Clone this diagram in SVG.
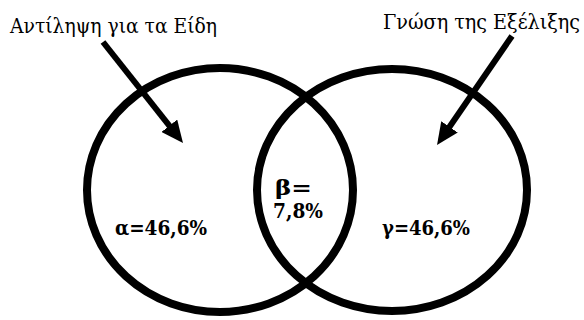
<svg xmlns="http://www.w3.org/2000/svg" width="584" height="320" viewBox="0 0 584 320">
<style>
.c{fill:none;stroke:#000;stroke-width:8}
.a{stroke:#000;stroke-width:6;fill:none}
.t{font-family:"DejaVu Serif Condensed","DejaVu Serif",serif;font-stretch:condensed;font-size:20.5px;fill:#000}
.l{font-family:"DejaVu Serif Condensed","DejaVu Serif",serif;font-stretch:condensed;font-size:21px;font-weight:bold;fill:#000}
</style>
<defs>
<marker id="ah" markerUnits="userSpaceOnUse" markerWidth="22" markerHeight="20" refX="12" refY="10" orient="auto">
<path d="M0,0 L22,10 L0,20 Z" fill="#000"/>
</marker>
</defs>
<rect width="584" height="320" fill="#fff"/>
<g id="set-left">
<ellipse class="c" cx="220" cy="190" rx="133" ry="122"/>
<text class="t" x="10" y="33" textLength="207" lengthAdjust="spacingAndGlyphs">Αντίληψη για τα Είδη</text>
<text class="l" x="115" y="235" textLength="92" lengthAdjust="spacingAndGlyphs">α=46,6%</text>
</g>
<g id="set-right">
<ellipse class="c" cx="392" cy="190" rx="135" ry="121"/>
<text class="t" x="383" y="29" textLength="197" lengthAdjust="spacingAndGlyphs">Γνώση της Εξέλιξης</text>
<text class="l" x="382" y="235" textLength="88" lengthAdjust="spacingAndGlyphs">γ=46,6%</text>
</g>
<g id="intersection">
<text class="l" x="275" y="195" textLength="37" lengthAdjust="spacingAndGlyphs">β=</text>
<text class="l" x="273" y="218" textLength="50" lengthAdjust="spacingAndGlyphs">7,8%</text>
</g>
<g id="connectors">
<line class="a" x1="103" y1="42" x2="176.8" y2="135.2" marker-end="url(#ah)"/>
<line class="a" x1="512" y1="36" x2="442.7" y2="136.8" marker-end="url(#ah)"/>
</g>
</svg>
